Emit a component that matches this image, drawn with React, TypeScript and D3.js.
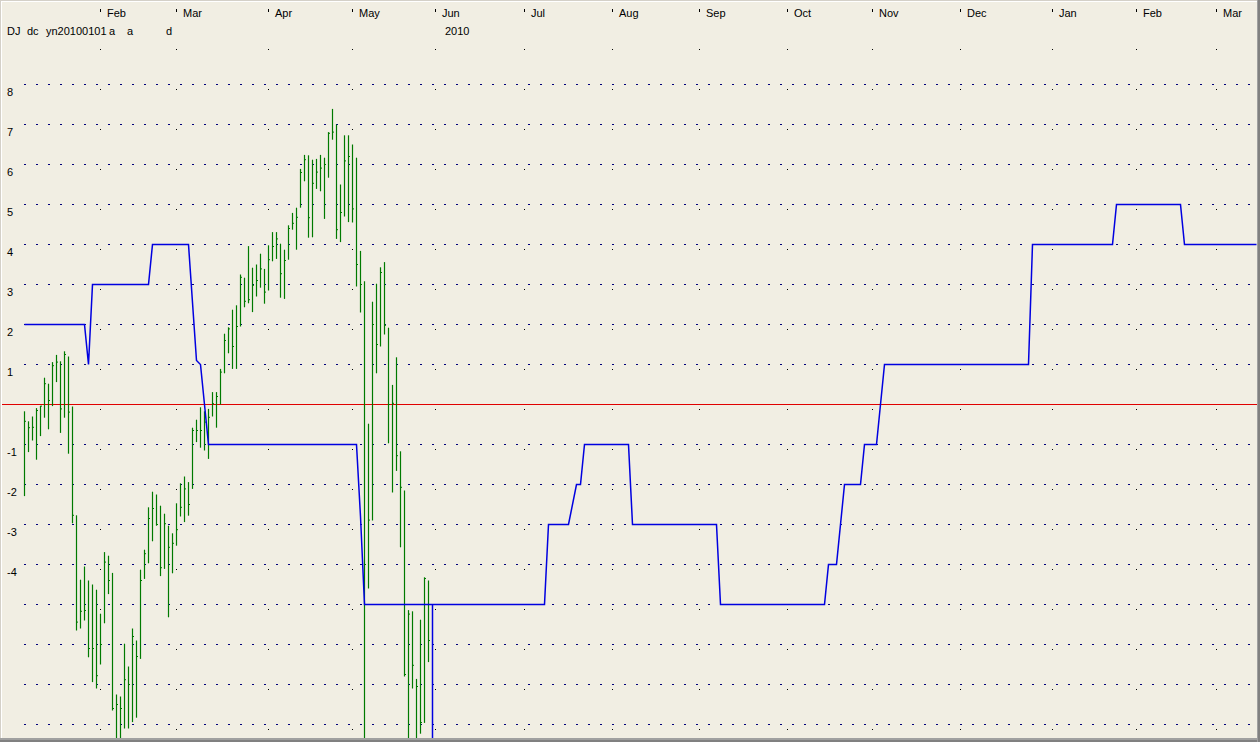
import React from "react";
import * as d3 from "d3";

const W = 1260;
const H = 742;

// Month tick labels (trading-day index of first day of month)
const monthLabels = ["Feb", "Mar", "Apr", "May", "Jun", "Jul", "Aug", "Sep", "Oct", "Nov", "Dec", "Jan", "Feb", "Mar"];
const monthIdx = [19, 38, 61, 82, 103, 125, 147, 169, 191, 212, 234, 257, 278, 298];

// Y axis labels
const yTickVals = [8, 7, 6, 5, 4, 3, 2, 1, -1, -2, -3, -4];
const gridVals = [8, 7, 6, 5, 4, 3, 2, 1, -1, -2, -3, -4, -5, -6, -7, -8];

// Bars: high, low, close (one per trading day)
const barHigh = [
  -0.17, -0.42, -0.3, -0.09, -0.03, 0.67, 0.52, 1.06, 1.24, 1.08,
  1.33, 1.2, -0.05, -2.77, -4.38, -4.05, -4.4, -4.5, -4.63, -5.23,
  -3.69, -3.78, -4.21, -7.25, -7.3, -5.98, -6.55, -5.6, -5.9, -4.13,
  -3.63, -2.57, -2.18, -2.25, -2.53, -2.73, -3.03, -3.22, -2.47, -1.97,
  -1.8, -1.94, -0.58, -0.38, -0.07, -0.17, -0.11, 0.31, 0.31, 0.89,
  1.77, 1.93, 2.37, 2.48, 3.25, 3.17, 3.96, 3.42, 3.5, 3.77,
  3.39, 3.98, 4.31, 4.31, 4.02, 3.87, 4.48, 4.79, 4.92, 5.89,
  6.24, 6.23, 6.12, 6.14, 6.24, 6.17, 6.81, 7.39, 7.0, 5.5,
  6.73, 6.73, 6.5, 6.17, 3.84, 3.08, -0.48, 2.57, 3.02, 3.43,
  3.56, 1.92, 0.49, 1.18, -1.17, -2.15, -5.14, -5.17, -6.86, -5.38,
  -4.32, -4.4,
];
const barLow = [
  -2.29, -1.19, -0.9, -1.38, -0.79, -0.33, -0.62, -0.04, 0.56, -0.71,
  -0.33, -1.23, -2.97, -5.65, -5.6, -5.4, -6.32, -6.94, -7.1, -6.5,
  -5.47, -4.74, -7.65, -8.5, -8.5, -8.1, -8.1, -7.94, -7.83, -6.36,
  -4.36, -3.97, -3.42, -3.03, -4.29, -4.11, -5.32, -4.22, -3.53, -2.8,
  -2.94, -2.78, -2.11, -0.94, -1.08, -1.15, -1.36, -0.3, -0.58, 0.0,
  0.78, 1.28, 0.89, 0.89, 1.95, 2.43, 2.53, 2.31, 2.7, 2.92,
  2.52, 2.85, 3.58, 3.64, 2.67, 2.64, 3.62, 4.37, 3.87, 4.92,
  5.58, 4.17, 4.18, 5.39, 5.33, 4.64, 5.67, 6.62, 4.14, 4.06,
  4.7, 4.56, 4.55, 2.95, 2.3, -8.5, -4.6, -2.9, 0.78, 1.45,
  1.75, -0.97, -2.2, -1.66, -3.57, -6.8, -8.5, -7.1, -8.5, -8.23,
  -7.96, -6.44,
];
const barClose = [
  -0.42, -0.58, -0.57, -0.15, -0.04, 0.52, 0.1, 0.97, 1.06, -0.11,
  1.25, -0.19, -2.77, -5.44, -5.17, -5.15, -6.1, -6.1, -6.78, -6.0,
  -3.94, -4.4, -7.6, -7.5, -7.6, -6.88, -7.0, -5.8, -6.3, -4.4,
  -3.73, -2.85, -2.6, -3.0, -4.08, -2.98, -3.57, -3.47, -3.13, -2.57,
  -2.11, -2.5, -0.65, -0.65, -0.65, -0.44, -0.32, 0.02, 0.2, 0.81,
  1.6, 1.89, 1.45, 1.95, 3.18, 2.58, 2.62, 2.98, 3.1, 3.39,
  2.81, 3.62, 3.95, 4.14, 3.27, 3.6, 4.4, 4.53, 4.68, 5.8,
  6.12, 4.67, 5.53, 5.81, 5.91, 6.0, 6.78, 6.81, 4.37, 4.8,
  6.09, 6.2, 4.89, 3.5, 3.0, -4.0, -2.89, 2.0, 1.5, 3.3,
  1.98, 0.0, 0.03, -1.28, -2.07, -6.75, -5.24, -6.52, -7.05, -7.95,
  -4.35, -5.9,
];

// Blue step line knots (day index, value)
const blueIdx = [0, 15, 16, 17, 31, 32, 41, 43, 44, 46, 83, 84, 85, 130, 131, 136, 138, 139, 140, 151, 152, 173, 174, 200, 201, 203, 205, 209, 210, 213, 215, 251, 252, 272, 273, 289, 290, 308];
const blueVal = [2, 2, 1, 3, 3, 4, 4, 1.1, 1, -1, -1, -2.8, -5, -5, -3, -3, -2, -2, -1, -1, -3, -3, -5, -5, -4, -4, -2, -2, -1, -1, 1, 1, 4, 4, 5, 5, 4, 4];
const todayIdx = 102;
const todayVal = -5;

const headerWords = ["DJ", "dc", "yn20100101", "a", "a", "d"];
const headerX = [7, 27, 46, 109, 127, 166];
const yearLabel = "2010";

export default function App() {
  const x = d3.scaleLinear().domain([0, 308]).range([24.5, 1256.5]);
  const y = d3.scaleLinear().domain([0, -1]).range([404.5, 444.5]);
  const plotTop = 40;
  const plotBottom = 738;
  const font = "'Liberation Sans', Arial, sans-serif";

  const blueLine = d3
    .line<number>()
    .x((_, i) => x(blueIdx[i]))
    .y((d) => y(d))(blueVal) as string;

  const gridDots: JSX.Element[] = [];
  gridVals.forEach((v) => {
    const gy = Math.round(y(v) - 0.5);
    for (let gx = 24; gx < 1254; gx += 12) {
      gridDots.push(<rect key={`g${v}_${gx}`} x={gx} y={gy} width={2} height={1} fill="#00007a" />);
    }
  });

  const monthDots: JSX.Element[] = [];
  monthIdx.forEach((m, k) => {
    const mx = Math.round(x(m) - 1);
    for (let my = 49; my < plotBottom; my += 40) {
      monthDots.push(<rect key={`m${k}_${my}`} x={mx} y={my} width={1} height={1} fill="#000" />);
    }
  });

  return (
    <svg
      width={W}
      height={H}
      style={{ position: "absolute", left: 0, top: 0, display: "block" }}
      xmlns="http://www.w3.org/2000/svg"
    >
      <defs>
        <clipPath id="plot">
          <rect x={2} y={plotTop} width={1255} height={plotBottom - plotTop} />
        </clipPath>
      </defs>
      <rect x={0} y={0} width={W} height={H} fill="#f1eee3" />

      {/* month header */}
      {monthLabels.map((lab, k) => {
        const mx = Math.round(x(monthIdx[k]) - 1);
        return (
          <g key={`ml${k}`}>
            <rect x={mx} y={9} width={1} height={3} fill="#000" />
            <text x={mx + 7} y={17} fontFamily={font} fontSize={11} fill="#000">
              {lab}
            </text>
          </g>
        );
      })}
      {headerWords.map((w, k) => (
        <text key={`h${k}`} x={headerX[k]} y={35} fontFamily={font} fontSize={11} fill="#000">
          {w}
        </text>
      ))}
      <text x={445} y={35} fontFamily={font} fontSize={11} fill="#000">
        {yearLabel}
      </text>

      {gridDots}
      {monthDots}

      {yTickVals.map((v) => (
        <text key={`yl${v}`} x={7} y={y(v) + 11} fontFamily={font} fontSize={11} fill="#000">
          {v}
        </text>
      ))}

      <line x1={2} x2={1257} y1={y(0)} y2={y(0)} stroke="#e00000" strokeWidth={1} />

      <g clipPath="url(#plot)">
        {barHigh.map((h, i) => (
          <g key={`b${i}`}>
            <line x1={x(i)} x2={x(i)} y1={y(h)} y2={y(barLow[i])} stroke="#007a00" strokeWidth={1.2} />
            <line x1={x(i) + 0.5} x2={x(i) + 1.5} y1={y(barClose[i])} y2={y(barClose[i])} stroke="#007a00" strokeWidth={1} />
          </g>
        ))}
        <path d={blueLine} fill="none" stroke="#0000e0" strokeWidth={1.5} />
        <line x1={x(todayIdx)} x2={x(todayIdx)} y1={y(todayVal)} y2={plotBottom + 2} stroke="#0000e0" strokeWidth={1.5} />
      </g>

      {/* frame */}
      <rect x={0} y={0} width={W} height={1} fill="#d4d0c8" />
      <rect x={0} y={0} width={1} height={H} fill="#d4d0c8" />
      <rect x={1} y={1} width={W - 2} height={1} fill="#ffffff" />
      <rect x={1} y={1} width={1} height={H - 2} fill="#ffffff" />
      <rect x={0} y={H - 2} width={W} height={2} fill="#808080" />
      <rect x={0} y={H - 4} width={W} height={2} fill="#a0a0a0" />
      <rect x={W - 2} y={0} width={2} height={H} fill="#808080" />
      <rect x={W - 3} y={0} width={1} height={H} fill="#a0a0a0" />
    </svg>
  );
}
